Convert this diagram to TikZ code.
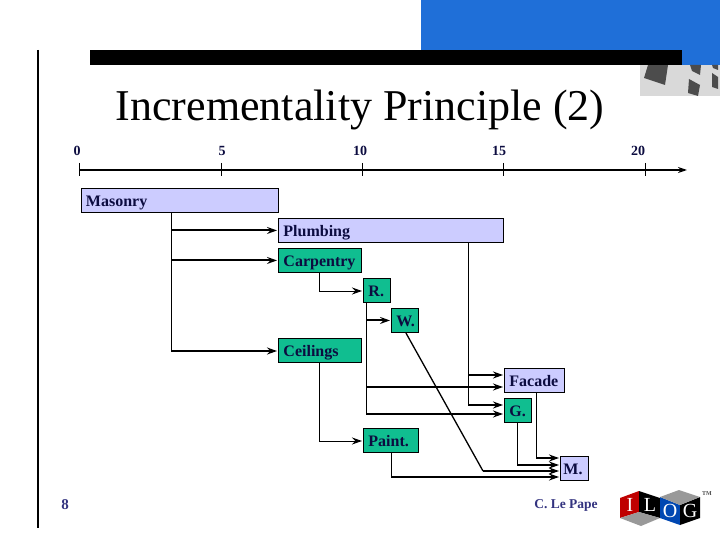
\documentclass[tikz,border=0pt]{standalone}
\usepackage{fontspec}
\setmainfont{Liberation Serif}
\usepackage{xcolor}
\usetikzlibrary{shapes,arrows.meta}
\definecolor{lilac}{HTML}{CCCCFF}
\definecolor{teal}{HTML}{10BE90}
\definecolor{navy}{HTML}{0C0C40}
\definecolor{slate}{HTML}{33337F}
\definecolor{sky}{HTML}{1F6FD8}
\tikzset{
  task/.style={draw=black, line width=0.9pt, anchor=north west, inner xsep=5pt, inner ysep=0pt,
    minimum height=#1, text height=15pt, text depth=3pt, text=navy,
    font=\fontsize{16}{18}\selectfont\bfseries},
  task/.default=24pt,
  lilactask/.style={task, fill=lilac},
  tealtask/.style={task, fill=teal},
  bone/.style={line width=1pt},
  link/.style={line width=2pt, shorten >=1pt, -{Stealth[length=10pt,width=7pt,inset=3.5pt]}},
  thinlink/.style={line width=1pt, shorten >=1pt, -{Stealth[length=10pt,width=7pt,inset=3.5pt]}},
  tick/.style={line width=0.7pt},
  ticklabel/.style={font=\fontsize{14}{16}\selectfont\bfseries, text=navy},
  logoletter/.style={font=\fontsize{20}{20}\selectfont, text=white}
}
\begin{document}
\begin{tikzpicture}[x=1pt, y=-1pt]
\useasboundingbox (0,0) rectangle (720,540);
% frame
\fill[sky] (421,0) rectangle (720,65);
\fill[black!15] (640,65) rectangle (720,96);
\fill[black!70] (648,65) -- (668,65) -- (665,85) -- (644,78) -- cycle;
\fill[black!70] (690,65) -- (701,65) -- (700,75) -- (692,71) -- cycle;
\fill[black!70] (689,79) -- (700,85) -- (698,96) -- (688,93) -- cycle;
\fill[black!70] (712,73) -- (718,77) -- (718,89) -- (712,87) -- cycle;
\fill[black!70] (712,65) -- (718,65) -- (718,70) -- (713,68) -- cycle;
\fill[black] (90,50) rectangle (682,65);
\draw[line width=1.2pt] (38,50) -- (38,528);
\node (title) at (360,110) {\fontsize{44}{50}\selectfont Incrementality Principle (2)};
% time axis
\node[coordinate] (axisstart) at (79,170) {};
\node[coordinate] (axisend) at (687,170) {};
\draw[line width=1.7pt, -{Stealth[length=9pt,width=6pt,inset=3pt]}] (axisstart) -- (axisend);
\foreach \tx/\lx/\val in {79/77/0, 221.5/222/5, 362/360/10, 503/499/15, 645/638/20} {
  \draw[tick] (\tx,163) -- (\tx,176);
  \node[ticklabel] at (\lx,151) {\val};
}
% tasks
\node[lilactask, text width=187pt] (masonry) at (80.5,188) {Masonry};
\node[lilactask, text width=215pt] (plumbing) at (278,218) {Plumbing};
\node[tealtask, text width=73pt] (carpentry) at (278,248) {Carpentry};
\node[tealtask, text width=17pt] (roof) at (363,278) {R.};
\node[tealtask, text width=17pt] (windows) at (391,308) {W.};
\node[tealtask, text width=73pt] (ceilings) at (278,338) {Ceilings};
\node[lilactask, text width=50pt] (facade) at (504,368) {Facade};
\node[tealtask, text width=17pt] (garden) at (504,398) {G.};
\node[tealtask, text width=45pt] (paint) at (363,428) {Paint.};
\node[lilactask, inner xsep=1pt, text width=26pt] (moving) at (560,456) {\hspace{2pt}M.};
% junctions
\coordinate (masonrytrunk) at (171,351);
\coordinate (rooftrunk) at (366,414);
\coordinate (plumbingtrunk) at (468,405);
\coordinate (carpentrybend) at (319,291);
\coordinate (ceilingsbend) at (319,441);
\coordinate (windowsbend) at (483,471);
\coordinate (paintbend) at (391,477);
\coordinate (gardenbend) at (517,465);
\coordinate (facadebend) at (536,458);
% masonry to its successors
\draw[bone] (masonrytrunk |- masonry.south) -- (masonrytrunk);
\draw[link] (masonrytrunk |- plumbing.west) -- (plumbing.west);
\draw[link] (masonrytrunk |- carpentry.west) -- (carpentry.west);
\draw[link] (masonrytrunk) -- (ceilings.west |- masonrytrunk);
% carpentry, ceilings
\draw[thinlink] (carpentrybend |- carpentry.south) -- (carpentrybend) -- (roof.west |- carpentrybend);
\draw[thinlink] (ceilingsbend |- ceilings.south) -- (ceilingsbend) -- (paint.west |- ceilingsbend);
% roof
\draw[bone] (rooftrunk |- roof.south) -- (rooftrunk);
\draw[link] (rooftrunk |- windows.west) -- (windows.west);
\draw[link] (rooftrunk |- 0,387) -- (facade.west |- 0,387);
\draw[link] (rooftrunk) -- (garden.west |- rooftrunk);
% plumbing
\draw[bone] (plumbingtrunk |- plumbing.south) -- (plumbingtrunk);
\draw[link] (plumbingtrunk |- 0,375) -- (facade.west |- 0,375);
\draw[link] (plumbingtrunk) -- (garden.west |- plumbingtrunk);
% into the last task
\draw[bone] (facadebend |- facade.south) -- (facadebend);
\draw[link] (facadebend) -- (moving.west |- facadebend);
\draw[bone] (gardenbend |- garden.south) -- (gardenbend);
\draw[link] (gardenbend) -- (moving.west |- gardenbend);
\draw[line width=1.3pt] (windows.south |- 0,333) ++(1,0) -- (windowsbend);
\draw[link] (windowsbend) -- (moving.west |- windowsbend);
\draw[bone] (paintbend |- paint.south) -- (paintbend);
\draw[link] (paintbend) -- (moving.west |- paintbend);
% footer
\node[font=\fontsize{15}{18}\selectfont\bfseries, text=slate] (pagenum) at (65,505) {8};
\node[font=\fontsize{13.5}{16}\selectfont\bfseries, text=slate] (speaker) at (566,505) {C. Le Pape};
% logo
\fill[red!75!black] (620,498) -- (639,491) -- (639,512) -- (620,518) -- cycle;
\fill[black] (639,491) -- (660,498) -- (660,518) -- (639,512) -- cycle;
\fill[gray!80] (620,518) -- (639,512) -- (660,518) -- (641,526) -- cycle;
\fill[blue!60!cyan!70!black] (660,497) -- (680,505) -- (680,525) -- (660,518) -- cycle;
\fill[black] (680,505) -- (700,497) -- (700,518) -- (680,525) -- cycle;
\fill[gray!80] (660,497) -- (679,490) -- (700,497) -- (680,505) -- cycle;
\node[logoletter] (logoi) at (630,505) {I};
\node[logoletter] (logol) at (650,505) {L};
\node[logoletter] (logoo) at (670,511) {O};
\node[logoletter] (logog) at (690,511) {G};
\node[font=\fontsize{6}{6}\selectfont\bfseries, text=black!70] (logotm) at (707,494) {TM};
\end{tikzpicture}
\end{document}
